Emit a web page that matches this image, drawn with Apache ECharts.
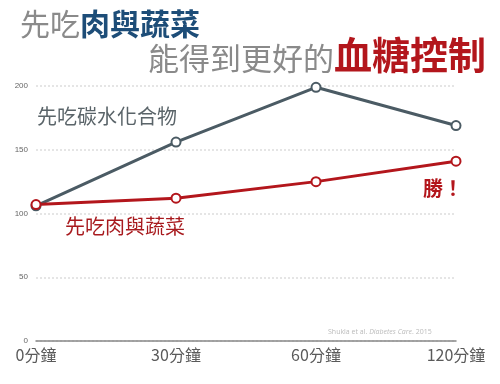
<!DOCTYPE html>
<html><head><meta charset="utf-8">
<script src="https://cdn.jsdelivr.net/npm/echarts@6/dist/echarts.min.js"></script>
<style>html,body{margin:0;padding:0;background:#fff}#c{width:500px;height:384px}</style>
</head><body><div id="c"></div>
<script>
const categories = ['0分鐘', '30分鐘', '60分鐘', '120分鐘'];
const carbsFirst = [106, 156, 199, 169];
const vegFirst = [107, 112, 125, 141];
const yTicks = [0, 50, 100, 150, 200];

const F = '"Noto Sans CJK TC", "Noto Sans CJK SC", sans-serif';
const chart = echarts.init(document.getElementById('c'));
chart.setOption({
  backgroundColor: '#fff',
  animation: false,
  grid: { left: 36, right: 44, top: 86, bottom: 43 },
  xAxis: {
    type: 'category', data: categories, boundaryGap: false,
    axisLine: { lineStyle: { color: '#888', width: 1.5 } },
    axisTick: { show: false },
    axisLabel: { color: '#5a5a5a', fontSize: 16, fontFamily: F, margin: 6 }
  },
  yAxis: {
    type: 'value', min: yTicks[0], max: yTicks[yTicks.length - 1], interval: 50,
    axisLine: { show: false }, axisTick: { show: false },
    axisLabel: { color: '#666', fontSize: 8, margin: 8 },
    splitLine: { lineStyle: { color: '#ddd', type: [2, 2], width: 1.5 } }
  },
  series: [
    { type: 'line', data: carbsFirst, symbol: 'emptyCircle', symbolSize: 9,
      lineStyle: { color: '#4b5b64', width: 3 },
      itemStyle: { color: '#4b5b64', borderWidth: 2.5 } },
    { type: 'line', data: vegFirst, symbol: 'emptyCircle', symbolSize: 9,
      lineStyle: { color: '#b3161c', width: 3 },
      itemStyle: { color: '#b3161c', borderWidth: 2.5 } }
  ],
  graphic: [
    { type: 'text', left: 20, top: 9, style: {
      text: '{g|先吃}{b|肉與蔬菜}', fontFamily: F,
      rich: { g: { fontSize: 30, fill: '#8a8a8a', fontFamily: F },
              b: { fontSize: 30, fill: '#1d4d78', fontWeight: 'bold', fontFamily: F } } } },
    { type: 'text', left: 148, top: 36, style: {
      text: '{g|能得到更好的}{r|血糖控制}', fontFamily: F,
      rich: { g: { fontSize: 31, fill: '#8a8a8a', fontFamily: F, verticalAlign: 'bottom' },
              r: { fontSize: 38, fill: '#b3161c', fontWeight: 'bold', fontFamily: F, verticalAlign: 'bottom' } } } },
    { type: 'text', left: 37, top: 106, style: { text: '先吃碳水化合物', fontSize: 20, fill: '#5a6469', fontFamily: F } },
    { type: 'text', left: 65, top: 216, style: { text: '先吃肉與蔬菜', fontSize: 20, fill: '#a81a1e', fontFamily: F } },
    { type: 'text', left: 423, top: 178, style: { text: '勝！', fontSize: 20, fill: '#b3161c', fontWeight: 'bold', fontFamily: F } },
    { type: 'text', left: 328, top: 328, style: {
      text: '{n|Shukla et al. }{i|Diabetes Care}{n|. 2015}',
      rich: { n: { fontSize: 7, fill: '#bbb', fontFamily: 'Open Sans' },
              i: { fontSize: 7, fill: '#bbb', fontStyle: 'italic', fontFamily: 'Open Sans' } } } }
  ]
});
</script></body></html>
